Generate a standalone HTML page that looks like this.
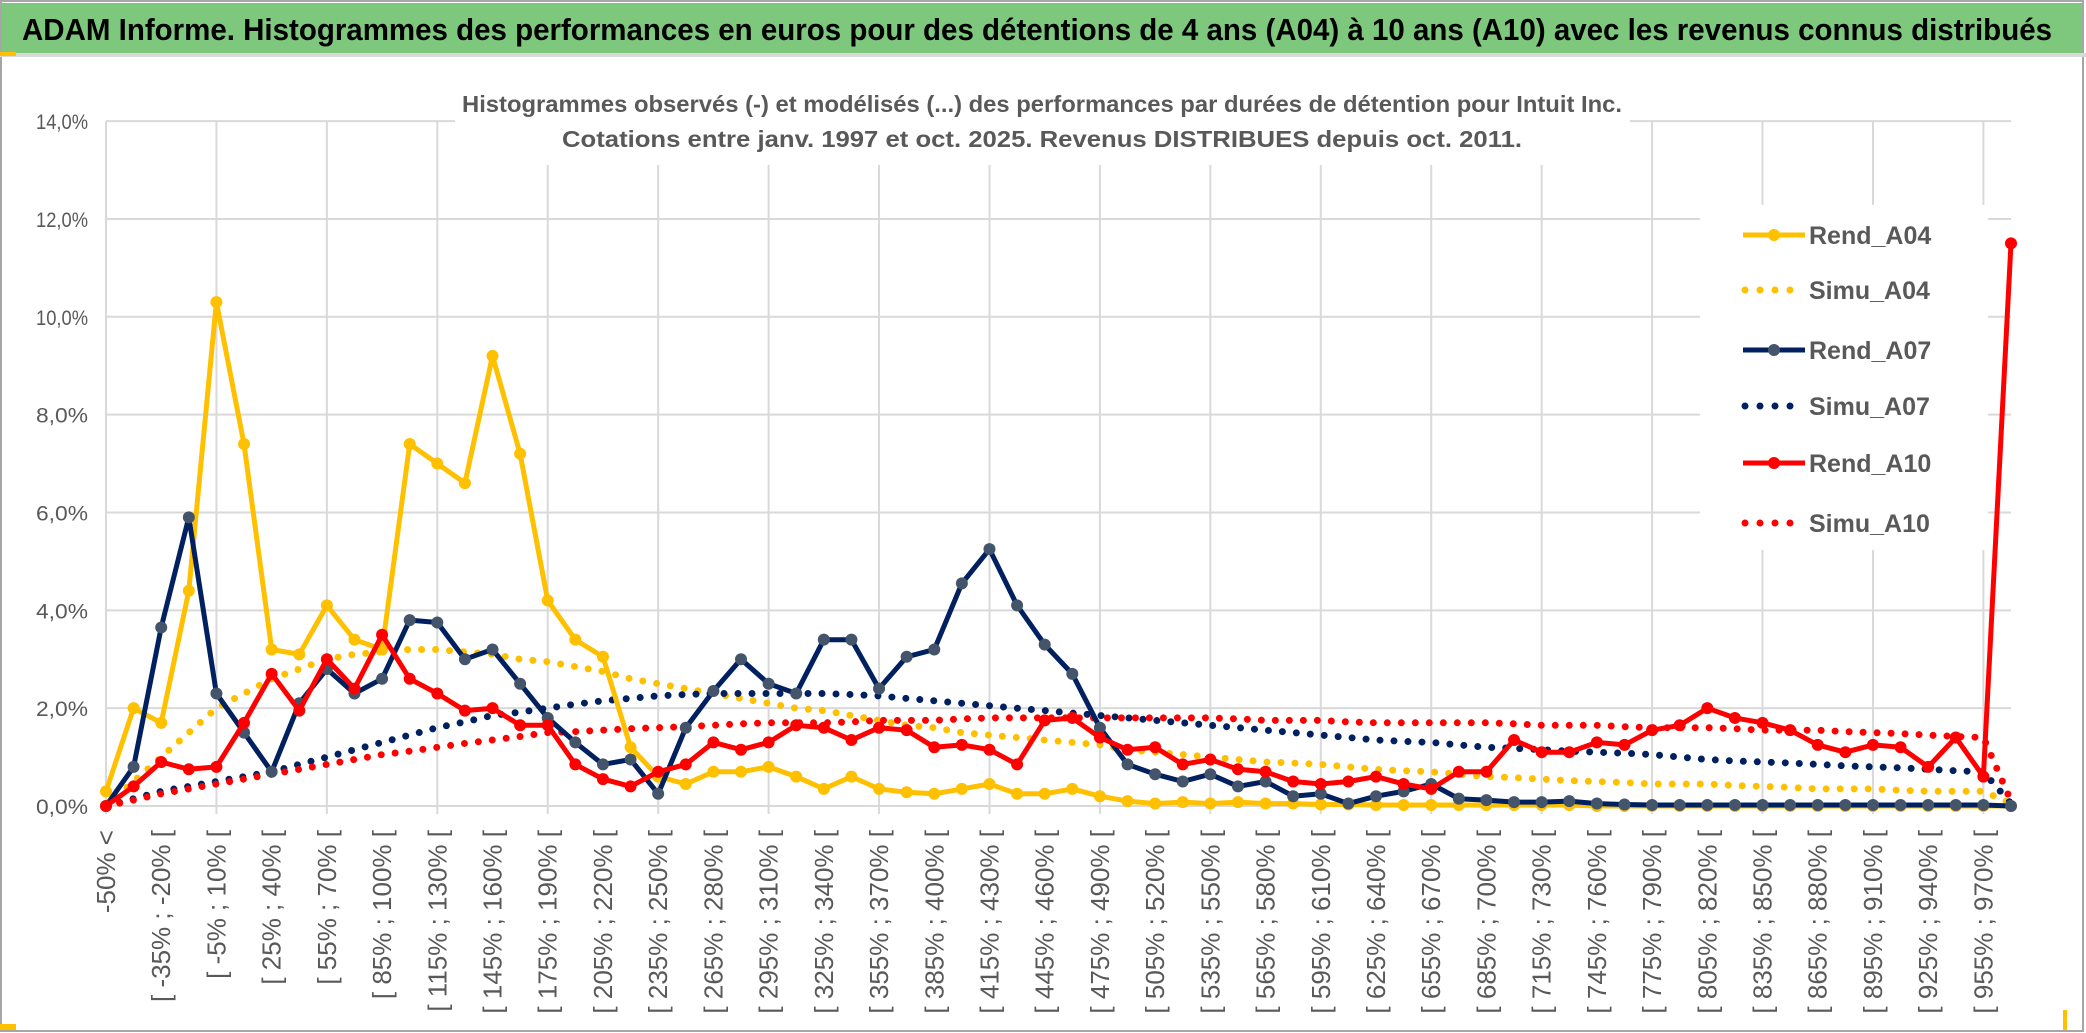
<!DOCTYPE html>
<html><head><meta charset="utf-8">
<style>
html,body{margin:0;padding:0;background:#fff;}
svg{display:block;font-family:"Liberation Sans",sans-serif;}
</style></head>
<body>
<svg id="chart" width="2086" height="1033" viewBox="0 0 2086 1033" xmlns="http://www.w3.org/2000/svg">
  <rect x="0" y="0" width="2086" height="1033" fill="#fff"/>
  <rect x="1" y="1" width="2082" height="1030" fill="none" stroke="#a6a6a6" stroke-width="2"/>
  <rect x="2" y="3" width="2080" height="50" fill="#7dc87d"/>
  <rect x="0" y="53" width="2086" height="4" fill="#d9d9d9"/>
  <rect x="0" y="52" width="16" height="4" fill="#ffc000"/>
  <rect x="0" y="1024" width="16" height="6" fill="#ffc000"/>
  <rect x="2063" y="1010" width="4" height="20" fill="#ffc000"/>
  <text x="22" y="40" font-size="31" font-weight="bold" fill="#000" textLength="2030" lengthAdjust="spacingAndGlyphs">ADAM Informe. Histogrammes des performances en euros pour des détentions de 4 ans (A04) à 10 ans (A10) avec les revenus connus distribués</text>
  <g id="grid"></g>
  <rect x="455" y="80" width="1175" height="85" fill="#fff"/>
  <text x="1042" y="112" font-size="23" font-weight="bold" fill="#595959" text-anchor="middle" textLength="1160" lengthAdjust="spacingAndGlyphs">Histogrammes observés (-) et modélisés (...) des performances par durées de détention pour Intuit Inc.</text>
  <text x="1042" y="147" font-size="23" font-weight="bold" fill="#595959" text-anchor="middle" textLength="960" lengthAdjust="spacingAndGlyphs">Cotations entre janv. 1997 et oct. 2025. Revenus DISTRIBUES depuis oct. 2011.</text>
  <g id="axes"></g>
  <rect x="1700" y="205" width="288" height="345" fill="#fff"/>
  <g id="series"></g>
  <g id="legend"></g>
</svg>
<script>
const categoriesCount = 70;
const yTicks = [0, 2, 4, 6, 8, 10, 12, 14];
const rendA04 = [0.3,2.0,1.7,4.4,10.3,7.4,3.2,3.1,4.1,3.4,3.2,7.4,7.0,6.6,9.2,7.2,4.2,3.4,3.05,1.2,0.6,0.45,0.7,0.7,0.8,0.6,0.35,0.6,0.35,0.28,0.25,0.35,0.45,0.25,0.25,0.35,0.2,0.1,0.05,0.08,0.05,0.08,0.05,0.05,0.03,0.03,0.02,0.02,0.02,0.02,0.02,0.02,0.02,0.02,0,0,0,0,0,0,0,0,0,0,0,0,0,0,0,0];
const simuA04 = [0,0.5,1.0,1.5,2.0,2.3,2.6,2.8,3.0,3.1,3.15,3.2,3.2,3.15,3.1,3.0,2.95,2.85,2.75,2.6,2.5,2.4,2.3,2.2,2.1,2.0,1.95,1.85,1.75,1.65,1.6,1.5,1.45,1.4,1.35,1.3,1.25,1.15,1.1,1.05,1.0,0.95,0.9,0.88,0.85,0.8,0.75,0.72,0.7,0.65,0.6,0.58,0.55,0.52,0.5,0.48,0.45,0.45,0.45,0.42,0.4,0.38,0.35,0.35,0.35,0.32,0.3,0.3,0.3,0.05];
const rendA07 = [0,0.8,3.65,5.9,2.3,1.5,0.7,2.1,2.8,2.3,2.6,3.8,3.75,3.0,3.2,2.5,1.8,1.3,0.85,0.95,0.25,1.6,2.35,3.0,2.5,2.3,3.4,3.4,2.4,3.05,3.2,4.55,5.25,4.1,3.3,2.7,1.6,0.85,0.65,0.5,0.65,0.4,0.5,0.2,0.25,0.05,0.2,0.3,0.45,0.15,0.12,0.08,0.08,0.1,0.05,0.03,0.02,0.02,0.02,0.02,0.02,0.02,0.02,0.02,0.02,0.02,0.02,0.02,0.02,0];
const simuA07 = [0,0.15,0.3,0.4,0.5,0.6,0.7,0.85,1.0,1.15,1.3,1.45,1.6,1.72,1.85,1.92,2.0,2.08,2.15,2.2,2.25,2.28,2.3,2.3,2.3,2.3,2.3,2.28,2.25,2.2,2.15,2.1,2.05,2.0,1.95,1.9,1.85,1.8,1.75,1.7,1.65,1.6,1.55,1.5,1.45,1.4,1.35,1.32,1.3,1.25,1.2,1.18,1.15,1.12,1.1,1.08,1.05,1.0,0.95,0.92,0.9,0.88,0.85,0.82,0.8,0.78,0.75,0.72,0.7,0.05];
const rendA10 = [0,0.4,0.9,0.75,0.8,1.7,2.7,1.95,3.0,2.4,3.5,2.6,2.3,1.95,2.0,1.65,1.65,0.85,0.55,0.4,0.7,0.85,1.3,1.15,1.3,1.65,1.6,1.35,1.6,1.55,1.2,1.25,1.15,0.85,1.75,1.8,1.4,1.15,1.2,0.85,0.95,0.75,0.7,0.5,0.45,0.5,0.6,0.45,0.35,0.7,0.7,1.35,1.1,1.1,1.3,1.25,1.55,1.65,2.0,1.8,1.7,1.55,1.25,1.1,1.25,1.2,0.8,1.4,0.6,11.5];
const simuA10 = [0,0.12,0.25,0.35,0.45,0.55,0.65,0.75,0.85,0.95,1.05,1.12,1.2,1.28,1.35,1.42,1.5,1.52,1.55,1.58,1.6,1.62,1.65,1.68,1.7,1.7,1.7,1.72,1.75,1.75,1.75,1.78,1.8,1.8,1.8,1.8,1.8,1.8,1.8,1.8,1.8,1.78,1.75,1.75,1.75,1.72,1.7,1.7,1.7,1.7,1.7,1.68,1.65,1.65,1.65,1.62,1.6,1.6,1.6,1.58,1.55,1.55,1.55,1.52,1.5,1.48,1.45,1.42,1.4,0.1];
const seriesNames = ["Rend_A04","Simu_A04","Rend_A07","Simu_A07","Rend_A10","Simu_A10"];

const NS = "http://www.w3.org/2000/svg";
const X0 = 106, X1 = 2011, Y0 = 806, YPER = 48.92;
function xPos(i){ return X0 + i * (X1 - X0) / (categoriesCount - 1); }
function yPos(v){ return Y0 - v * YPER; }
function catLabel(i){
  if (i === 0) return "-50% <";
  const a = -50 + 15 * (i - 1), b = a + 15;
  return "[ " + a + "% ; " + b + "% [";
}
function mk(tag, attrs, parent){
  const e = document.createElementNS(NS, tag);
  for (const k in attrs) e.setAttribute(k, attrs[k]);
  parent.appendChild(e);
  return e;
}
const grid = document.getElementById('grid');
const axes = document.getElementById('axes');
const series = document.getElementById('series');
const legend = document.getElementById('legend');

yTicks.forEach(t => {
  const l = mk('line', {x1: X0, x2: X1, y1: yPos(t), y2: yPos(t), stroke: '#d9d9d9', 'stroke-width': 2}, grid);
  
  
  const tx = mk('text', {x: 88, y: yPos(t) + 8, 'font-size': 21, fill: '#595959', 'text-anchor': 'end', textLength: 52, lengthAdjust: 'spacingAndGlyphs'}, axes);
  tx.textContent = t.toFixed(1).replace('.', ',') + '%';
  
  
});
for (let i = 0; i < categoriesCount; i += 4) {
  const l = mk('line', {x1: xPos(i), x2: xPos(i), y1: yPos(14), y2: Y0 + 8, stroke: '#d9d9d9', 'stroke-width': 2}, grid);
  
  
}
for (let i = 0; i < categoriesCount - 1; i += 2) {
  const x = xPos(i) + 9, y = 830;
  const tx = mk('text', {x: x, y: y, 'font-size': 26, fill: '#595959', 'text-anchor': 'end', transform: 'rotate(-90 ' + x + ' ' + y + ')'}, axes);
  tx.textContent = catLabel(i);
  
  
}

const styles = [
  {data: rendA04, color: '#ffc000', dotted: false, marker: '#ffc000'},
  {data: simuA04, color: '#ffc000', dotted: true},
  {data: rendA07, color: '#002060', dotted: false, marker: '#44546a'},
  {data: simuA07, color: '#002060', dotted: true},
  {data: rendA10, color: '#ff0000', dotted: false, marker: '#ff0000'},
  {data: simuA10, color: '#ff0000', dotted: true}
];
const order = [1, 3, 5, 0, 2, 4];
order.forEach(si => {
  const s = styles[si];
  const pts = s.data.map((v, i) => xPos(i).toFixed(1) + ',' + yPos(v).toFixed(1)).join(' ');
  const g = mk('g', {}, series);
  
  
  if (s.dotted) {
    const pl = mk('polyline', {points: pts, fill: 'none', stroke: s.color, 'stroke-width': 7, 'stroke-linecap': 'round', 'stroke-dasharray': '0 14'}, g);
    
    
  } else {
    const pl = mk('polyline', {points: pts, fill: 'none', stroke: s.color, 'stroke-width': 5, 'stroke-linejoin': 'round'}, g);
    
    
    s.data.forEach((v, i) => {
      const c = mk('circle', {cx: xPos(i), cy: yPos(v), r: 6, fill: s.marker}, g);
      
      
    });
  }
});

const legendY = [235, 290, 350, 406, 463, 523];
styles.forEach((s, k) => {
  const y = legendY[k];
  const g = mk('g', {}, legend);
  
  
  if (s.dotted) {
    mk('line', {x1: 1745, x2: 1800, y1: y, y2: y, stroke: s.color, 'stroke-width': 7, 'stroke-linecap': 'round', 'stroke-dasharray': '0 15'}, g);
  } else {
    mk('line', {x1: 1743, x2: 1805, y1: y, y2: y, stroke: s.color, 'stroke-width': 5}, g);
    mk('circle', {cx: 1774, cy: y, r: 6, fill: s.marker}, g);
  }
  const t = mk('text', {x: 1809, y: y + 9, 'font-size': 25, 'font-weight': 'bold', fill: '#595959'}, g);
  t.textContent = seriesNames[k];
});
</script>
</body></html>
